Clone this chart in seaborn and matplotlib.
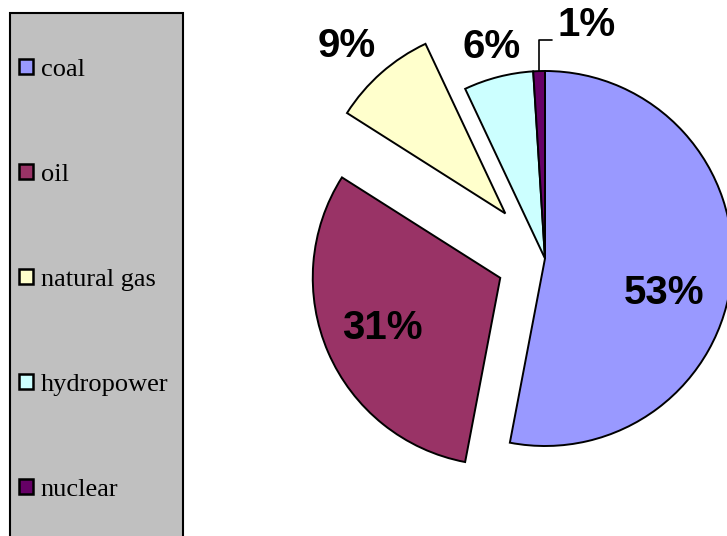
import matplotlib
matplotlib.use("Agg")
import matplotlib.pyplot as plt
import matplotlib.patches as mpatches
import seaborn as sns
import numpy as np

sns.set_theme(style="white")
plt.rcParams['font.family'] = ['Liberation Sans', 'DejaVu Sans']

# ---- data ----
categories = ["coal", "oil", "natural gas", "hydropower", "nuclear"]
values = [53, 31, 9, 6, 1]
pct_labels = ["53%", "31%", "9%", "6%", "1%"]
colors = ["#9999FF", "#993366", "#FFFFCC", "#CCFFFF", "#660066"]
explode = [0.0, 0.26, 0.32, 0.0, 0.0]

# ---- layout (pixel based) ----
W, H = 727, 536
CX, CY, R = 545.0, 258.5, 187.5  # pie centre / radius in pixels


def px(x, y):
    """pixel coordinates -> data coordinates (radius-1 pie)"""
    return (x - CX) / R, (CY - y) / R


label_pos_px = [(664, 293), (382, 328), (347, 46), (492, 47), (587, 25)]

fig = plt.figure(figsize=(W / 100, H / 100), dpi=100)
ax = fig.add_axes([0, 0, 1, 1])

wedges, _ = ax.pie(values, colors=colors, explode=explode, startangle=90,
                   counterclock=False, radius=1.0,
                   wedgeprops=dict(edgecolor="black", linewidth=1.4))
ax.set_xlim((0 - CX) / R, (W - CX) / R)
ax.set_ylim((CY - H) / R, CY / R)
ax.set_aspect('auto')
ax.axis('off')

for txt, (lx, ly) in zip(pct_labels, label_pos_px):
    x, y = px(lx, ly)
    ax.text(x, y, txt, ha='center', va='center', fontsize=29,
            fontweight='bold', color='black')

# leader line for the smallest slice
w = wedges[-1]
tm = np.deg2rad((w.theta1 + w.theta2) / 2)
x0, y0 = np.cos(tm), np.sin(tm)
xk, yk = px(0, 40)
xe, _ = px(552, 0)
ax.plot([x0, x0, xe], [y0, yk, yk], color='black', lw=1.2, clip_on=False)

# legend box
box = mpatches.Rectangle((10 / W, -0.01), (183 - 10) / W, (H - 13) / H + 0.01,
                         transform=fig.transFigure, facecolor="#C0C0C0",
                         edgecolor="black", linewidth=1.5, zorder=0)
fig.patches.append(box)

leg = fig.legend(wedges, categories, loc='upper left',
                 bbox_to_anchor=(19 / W, 1 - 59 / H),
                 frameon=False, borderpad=0, borderaxespad=0,
                 handlelength=0.52, handleheight=0.52, handletextpad=0.3,
                 labelspacing=3.14, labelcolor='black',
                 prop=dict(family='Liberation Serif', size=19))
for h in leg.legend_handles:
    h.set_linewidth(1.8)

fig.savefig("out.png", dpi=100)
